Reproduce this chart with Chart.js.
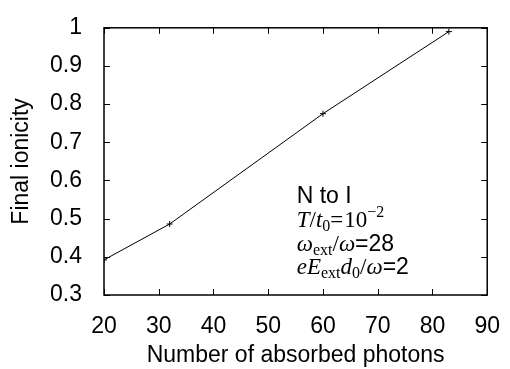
<!DOCTYPE html>
<html>
<head>
<meta charset="utf-8">
<script src="https://cdn.jsdelivr.net/npm/chart.js@4"></script>
<style>
  html, body { margin: 0; padding: 0; background: #fff; }
  #wrap { width: 510px; height: 369px; }
</style>
</head>
<body>
<div id="wrap"><canvas id="myChart"></canvas></div>
<script>
// values
const photons = [20, 32, 60, 83];
const ionicity = [0.392, 0.486, 0.775, 0.99];
const xTicks = [20, 30, 40, 50, 60, 70, 80, 90];
const yTicks = [0.3, 0.4, 0.5, 0.6, 0.7, 0.8, 0.9, 1];

const sans = "'Liberation Sans', Arial, sans-serif";
const serif = "'Liberation Serif', 'Times New Roman', serif";

// box + inward ticks on all four sides (gnuplot look)
const frame = {
  id: "frame",
  afterDatasetsDraw(chart) {
    const ctx = chart.ctx;
    const a = chart.chartArea;
    const xs = chart.scales.x, ys = chart.scales.y;
    const len = 6;
    ctx.save();
    ctx.strokeStyle = "#000";
    ctx.lineWidth = 1;
    xTicks.forEach(function(v) {
      const px = Math.round(xs.getPixelForValue(v)) + 0.5;
      ctx.beginPath();
      ctx.moveTo(px, a.bottom); ctx.lineTo(px, a.bottom - len);
      ctx.moveTo(px, a.top); ctx.lineTo(px, a.top + len);
      ctx.stroke();
    });
    yTicks.forEach(function(v) {
      const py = Math.round(ys.getPixelForValue(v)) + 0.5;
      ctx.beginPath();
      ctx.moveTo(a.left, py); ctx.lineTo(a.left + len, py);
      ctx.moveTo(a.right, py); ctx.lineTo(a.right - len, py);
      ctx.stroke();
    });
    ctx.lineWidth = 1.5;
    ctx.strokeRect(a.left, a.top, a.right - a.left, a.bottom - a.top);
    ctx.restore();
  }
};

// the "N to I" label block, written piece by piece
function runs(ctx, x, y, parts) {
  parts.forEach(function(p) {
    ctx.font = p[1];
    ctx.fillText(p[0], x, y + (p[2] || 0));
    x += ctx.measureText(p[0]).width + (p[3] || 0);
  });
}
const note = {
  id: "note",
  afterDraw(chart) {
    const ctx = chart.ctx;
    const x = chart.scales.x.getPixelForValue(55.2);
    const y = chart.scales.y.getPixelForValue(0.541);
    const it = "italic 23px " + serif, rm = "23px " + serif, sub = "16px " + serif;
    const sn = "23px " + sans;
    ctx.save();
    ctx.fillStyle = "#000";
    ctx.textBaseline = "alphabetic";
    ctx.textAlign = "left";
    runs(ctx, x, y, [["N to I", sn]]);
    runs(ctx, x, y + 24, [["T", it], ["/", rm], ["t", it], ["0", sub, 4], ["=", rm, 0, 1], ["10", rm], ["\u22122", sub, -10]]);
    runs(ctx, x, y + 48, [["\u03c9", it], ["ext", sub, 4], ["/", rm], ["\u03c9", it], ["=28", sn]]);
    runs(ctx, x, y + 71, [["eE", it], ["ext", sub, 4], ["d", it], ["0", sub, 4], ["/", rm], ["\u03c9", it], ["=2", sn]]);
    ctx.restore();
  }
};

var chart = new Chart(document.getElementById("myChart").getContext("2d"), {
  type: "line",
  data: {
    datasets: [{
      data: photons.map(function(p, i) { return { x: p, y: ionicity[i] }; }),
      borderColor: "#000",
      backgroundColor: "#000",
      borderWidth: 1,
      pointStyle: "cross",
      pointRadius: 3,
      pointBorderWidth: 1,
      tension: 0
    }]
  },
  options: {
    responsive: true,
    maintainAspectRatio: false,
    animation: false,
    layout: { padding: { top: 19, right: 15, left: 0, bottom: 0 } },
    plugins: { legend: { display: false }, tooltip: { enabled: false } },
    scales: {
      x: {
        type: "linear", min: 20, max: 90,
        grid: { display: false },
        border: { display: false },
        afterBuildTicks: function(s) { s.ticks = xTicks.map(function(v) { return { value: v }; }); },
        afterFit: function(s) { s.height = 74; },
        ticks: { color: "#000", font: { family: sans, size: 23 }, padding: 10, maxRotation: 0,
          callback: function(v) { return String(v); } },
        title: { display: true, text: "Number of absorbed photons", color: "#000", font: { family: sans, size: 23 }, padding: { top: 2, bottom: 0 } }
      },
      y: {
        type: "linear", min: 0.3, max: 1,
        grid: { display: false },
        border: { display: false },
        afterBuildTicks: function(s) { s.ticks = yTicks.map(function(v) { return { value: v }; }); },
        afterFit: function(s) { s.width = 104; },
        ticks: { color: "#000", font: { family: sans, size: 23 }, padding: 14,
          callback: function(v) { return String(v); } },
        title: { display: true, text: "Final ionicity", color: "#000", font: { family: sans, size: 23 }, padding: { top: 8, bottom: 4 } }
      }
    }
  },
  plugins: [frame, note]
});
</script>
</body>
</html>
